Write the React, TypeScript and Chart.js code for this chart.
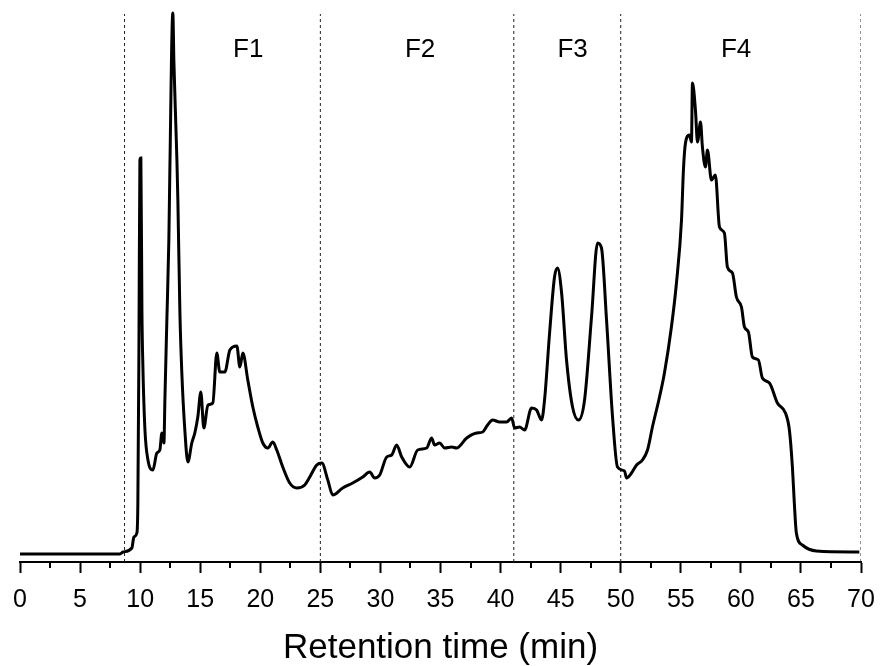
import React, { useEffect, useRef } from "react";
import { Chart, registerables } from "chart.js";

Chart.register(...registerables);

// Retention time (min)
const times = [
  0, 8.32, 8.57, 9.31, 9.48, 9.73, 9.81, 9.9, 9.98, 10.06, 10.15, 10.23, 10.4, 10.65, 11.06, 11.39, 11.64, 11.81,
  11.98, 12.06, 12.23, 12.39, 12.47, 12.72, 12.81, 12.97, 13.06, 13.14, 13.31, 13.47, 13.72, 13.97, 14.3, 14.55,
  14.8, 15.05, 15.3, 15.64, 16.05, 16.38, 16.63, 17.05, 17.47, 18.05, 18.3, 18.55, 18.96, 19.38, 19.79, 20.21,
  20.63, 21.04, 21.37, 21.87, 22.45, 23.04, 23.7, 24.12, 24.7, 25.12, 25.62, 26.03, 26.86, 27.69, 28.53, 29.11,
  29.52, 29.94, 30.52, 30.94, 31.35, 31.77, 32.44, 33.1, 33.85, 34.26, 34.51, 34.93, 35.35, 35.93, 36.34, 37.18,
  38.01, 38.51, 38.92, 39.34, 39.92, 40.5, 40.92, 41.17, 41.58, 42.0, 42.58, 43.0, 43.41, 43.66, 44.08, 44.49,
  44.74, 45.08, 45.49, 45.99, 46.49, 46.99, 47.57, 48.07, 48.4, 48.82, 49.32, 49.73, 50.32, 50.48, 50.9, 51.32,
  51.81, 52.23, 52.64, 53.23, 53.64, 54.22, 54.64, 55.06, 55.22, 55.39, 55.72, 55.89, 55.97, 56.22, 56.39, 56.64,
  56.8, 57.05, 57.22, 57.55, 57.88, 58.22, 58.63, 58.88, 59.3, 59.63, 60.05, 60.3, 60.63, 60.96, 61.46, 61.79,
  62.38, 63.04, 63.71, 64.04, 64.29, 64.45, 64.62, 65.12, 66.28, 69.86,
];

// Detector signal (arbitrary units)
const signal = [
  8, 8, 10, 14, 25, 29, 59, 215, 402, 404, 249, 195, 132, 102, 92, 109, 112, 129,
  119, 162, 245, 322, 389, 549, 500, 437, 402, 362, 249, 189, 132, 100, 119, 129,
  145, 170, 134, 157, 159, 209, 190, 190, 212, 216, 195, 209, 182, 155, 135, 119,
  114, 120, 112, 95, 79, 74, 77, 85, 97, 99, 82, 67, 74, 79, 85, 90,
  84, 87, 105, 107, 117, 105, 95, 112, 114, 124, 117, 119, 114, 115, 114, 124,
  129, 130, 137, 142, 140, 140, 144, 134, 135, 132, 154, 152, 142, 162, 229, 285,
  294, 269, 202, 155, 142, 162, 245, 319, 314, 242, 145, 95, 91, 84, 89, 97,
  102, 112, 135, 165, 189, 235, 279, 342, 392, 419, 427, 420, 479, 452, 420, 440,
  415, 395, 412, 382, 387, 335, 329, 295, 289, 265, 255, 235, 230, 205, 202, 184,
  179, 159, 149, 132, 95, 59, 29, 17, 11, 10,
];

// Fraction boundaries (min) and labels
const fractionBounds = [8.7, 25, 41.1, 50, 70];
const fractionNames = ["F1", "F2", "F3", "F4"];
const fractionLabelTimes = [19.0, 33.3, 46.0, 59.6];
const fractionLabelLevel = 512;
const boundaryTop = 548;

const xMin = 0;
const xMax = 70;
const yMin = 0;
const yMax = 550;

const FONT = "'Liberation Sans', Arial, Helvetica, sans-serif";

export default function App() {
  const ref = useRef<HTMLCanvasElement | null>(null);

  useEffect(() => {
    const canvas = ref.current;
    if (!canvas) return;

    const boundaryDatasets = fractionBounds.map((t) => ({
      type: "line" as const,
      data: [
        { x: t, y: yMin },
        { x: t, y: boundaryTop },
      ],
      borderColor: "#222",
      borderWidth: 1,
      borderDash: [3, 3],
      pointRadius: 0,
      fill: false,
      order: 2,
    }));

    const labelsPlugin = {
      id: "fractionLabels",
      afterDatasetsDraw(chart: any) {
        const { ctx, scales } = chart;
        const xs = scales.x;
        const ys = scales.y;
        ctx.save();
        ctx.fillStyle = "#000";
        ctx.font = `26px ${FONT}`;
        ctx.textAlign = "center";
        ctx.textBaseline = "middle";
        fractionNames.forEach((name, i) => {
          ctx.fillText(name, xs.getPixelForValue(fractionLabelTimes[i]), ys.getPixelForValue(fractionLabelLevel));
        });
        ctx.restore();
      },
      afterDraw(chart: any) {
        const { ctx, scales } = chart;
        const xs = scales.x;
        ctx.save();
        ctx.strokeStyle = "#000";
        ctx.lineWidth = 2;
        xs.ticks.forEach((tk: any) => {
          if (Math.abs(tk.value % 5) > 1e-6) {
            const px = Math.round(xs.getPixelForValue(tk.value));
            ctx.beginPath();
            ctx.moveTo(px, xs.top);
            ctx.lineTo(px, xs.top + 6);
            ctx.stroke();
          }
        });
        ctx.restore();
      },
    };

    const chart = new Chart(canvas, {
      type: "line",
      data: {
        datasets: [
          {
            data: times.map((t, i) => ({ x: t, y: signal[i] })),
            borderColor: "#000",
            borderWidth: 3,
            pointRadius: 0,
            fill: false,
            tension: 0.25,
            cubicInterpolationMode: "monotone",
            clip: false as any,
            order: 1,
          },
          ...boundaryDatasets,
        ] as any,
      },
      options: {
        responsive: false,
        animation: false,
        events: [],
        layout: { padding: { left: 20, right: 20, top: 12, bottom: 0 } },
        plugins: {
          legend: { display: false },
          tooltip: { enabled: false },
          title: { display: false },
        },
        scales: {
          x: {
            type: "linear",
            min: xMin,
            max: xMax,
            afterFit: (s: any) => {
              s.paddingLeft = 0;
              s.paddingRight = 0;
            },
            border: { display: true, color: "#000", width: 2 },
            grid: {
              display: true,
              drawOnChartArea: false,
              drawTicks: true,
              tickLength: 11,
              tickWidth: 2,
              tickColor: (c: any) => (c.tick && Math.abs(c.tick.value % 5) < 1e-6 ? "#000" : "rgba(0,0,0,0)"),
            },
            ticks: {
              stepSize: 2.5,
              autoSkip: false,
              maxRotation: 0,
              padding: 12,
              color: "#000",
              font: { family: FONT, size: 25 },
              callback: (v: any) => (Math.abs(Number(v) % 5) < 1e-6 ? String(v) : ""),
            },
            title: {
              display: true,
              text: "Retention time (min)",
              color: "#000",
              font: { family: FONT, size: 35, lineHeight: 1.0 },
              padding: { top: 4, bottom: 0 },
            },
          },
          y: {
            type: "linear",
            display: false,
            min: yMin,
            max: yMax,
          },
        },
      },
      plugins: [labelsPlugin],
    });

    return () => chart.destroy();
  }, []);

  return (
    <div style={{ position: "fixed", left: 0, top: 0, width: 881, height: 666, background: "#fff" }}>
      <canvas ref={ref} width={881} height={666} style={{ display: "block" }} />
    </div>
  );
}
